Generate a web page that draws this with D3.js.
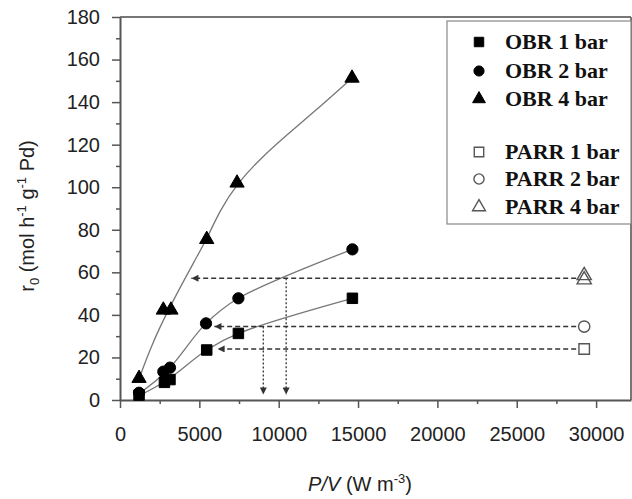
<!DOCTYPE html>
<html><head><meta charset="utf-8">
<script src="https://cdn.jsdelivr.net/npm/d3@7"></script>
<style>body{margin:0;background:#fff}svg{display:block}</style>
</head><body>
<svg id="c" width="632" height="499"></svg>
<script>
// ---- data ----
const obr1x = [1200, 2800, 3150, 5465, 7460, 14645];
const obr1y = [2.3, 8.3, 9.6, 23.5, 31.3, 47.8];
const obr2x = [1200, 2730, 3150, 5420, 7460, 14645];
const obr2y = [3.4, 13.3, 15.2, 36.0, 47.8, 70.8];
const obr4x = [1200, 2730, 3210, 5465, 7375, 14620];
const obr4y = [10.2, 42.3, 42.3, 75.5, 102.0, 151.3];
const parrX = [29250, 29250, 29250, 29250];
const parrY = [24.0, 34.5, 56.5, 58.5];
const parrSym = ["square", "circle", "triangle", "triangle"];
// fitted trend curves
const fit1x = [1200, 3000, 5465, 7460, 14645];
const fit1y = [2.0, 9.5, 23.5, 31.3, 47.8];
const fit2x = [1200, 3000, 5420, 7460, 14645];
const fit2y = [3.0, 14.0, 36.0, 47.8, 70.8];
const fit4x = [1200, 2000, 3000, 4833, 5465, 6301, 7420, 8822, 10504, 12603, 14620];
const fit4y = [10.0, 26.0, 42.0, 67.3, 75.6, 89.3, 102.0, 113.3, 124.5, 137.8, 151.3];
// read-off arrows
const hArrowY = [24.0, 34.5, 57.2];
const hArrowEnd = [6150, 5950, 4500];
const vArrowX = [9030, 10470];
const vArrowTop = [34.5, 57.2];
const vArrowBottom = [2.6, 2.6];
const xTicks = [0, 5000, 10000, 15000, 20000, 25000, 30000];
const xMinor = [2500, 7500, 12500, 17500, 22500, 27500];
const yTicks = [0, 20, 40, 60, 80, 100, 120, 140, 160, 180];
const yMinor = [10, 30, 50, 70, 90, 110, 130, 150, 170];
const legendLabels = ["OBR 1 bar", "OBR 2 bar", "OBR 4 bar", "PARR 1 bar", "PARR 2 bar", "PARR 4 bar"];
const symbols = ["square", "circle", "triangle"];

const svg = d3.select("#c");
const x = d3.scaleLinear().domain([0, 32200]).range([120, 631]);
const y = d3.scaleLinear().domain([0, 180]).range([400, 17]);
const axisCol = "#555";

const defs = svg.append("defs");
defs.append("marker").attr("id", "arr").attr("viewBox", "0 0 10 10")
  .attr("refX", 10).attr("refY", 5).attr("markerWidth", 10).attr("markerHeight", 7)
  .attr("markerUnits", "userSpaceOnUse").attr("orient", "auto")
  .append("path").attr("d", "M0,0 L10,5 L0,10 Z").attr("fill", "#333");

// frame (top + right)
svg.append("line").attr("x1", 120).attr("x2", 631).attr("y1", 17).attr("y2", 17)
  .attr("stroke", "#777").attr("stroke-width", 2);
svg.append("line").attr("x1", 631).attr("x2", 631).attr("y1", 17).attr("y2", 400)
  .attr("stroke", "#777").attr("stroke-width", 2);

function styleAxis(g) {
  g.select(".domain").attr("stroke", axisCol).attr("stroke-width", 2);
  g.selectAll(".tick line").attr("stroke", axisCol).attr("stroke-width", 1.5);
  g.selectAll("text").attr("font-family", "Liberation Sans, Arial, sans-serif")
    .attr("font-size", 20).attr("fill", "#222");
}
const gx = svg.append("g").attr("transform", "translate(0,400)")
  .call(d3.axisBottom(x).tickValues(xTicks).tickSize(8).tickPadding(19).tickSizeOuter(0).tickFormat(d3.format("d")));
styleAxis(gx);
const gxm = svg.append("g").attr("transform", "translate(0,400)")
  .call(d3.axisBottom(x).tickValues(xMinor).tickSize(4).tickFormat(""));
gxm.select(".domain").remove(); gxm.selectAll(".tick line").attr("stroke", axisCol).attr("stroke-width", 1.5);

const gy = svg.append("g").attr("transform", "translate(120,0)")
  .call(d3.axisLeft(y).tickValues(yTicks).tickSize(8).tickPadding(12).tickSizeOuter(0));
styleAxis(gy);
const gym = svg.append("g").attr("transform", "translate(120,0)")
  .call(d3.axisLeft(y).tickValues(yMinor).tickSize(4).tickFormat(""));
gym.select(".domain").remove(); gym.selectAll(".tick line").attr("stroke", axisCol).attr("stroke-width", 1.5);

// fitted curves
const lineC = d3.line().x(d => x(d[0])).y(d => y(d[1])).curve(d3.curveCatmullRom.alpha(0.5));
const lineB = d3.line().x(d => x(d[0])).y(d => y(d[1])).curve(d3.curveBasis);
[[fit1x, fit1y, lineC], [fit2x, fit2y, lineC], [fit4x, fit4y, lineB]].forEach(([fx, fy, gen]) => {
  svg.append("path").datum(fx.map((v, i) => [v, fy[i]])).attr("d", gen)
    .attr("fill", "none").attr("stroke", "#777").attr("stroke-width", 1.3);
});

// horizontal dashed arrows
hArrowY.forEach((v, i) => {
  svg.append("line").attr("x1", x(parrX[i]) - 8).attr("x2", x(hArrowEnd[i]))
    .attr("y1", y(v)).attr("y2", y(v))
    .attr("stroke", "#333").attr("stroke-width", 1.5).attr("stroke-dasharray", "5,3")
    .attr("marker-end", "url(#arr)");
});
// vertical dotted arrows
vArrowX.forEach((v, i) => {
  svg.append("line").attr("x1", x(v)).attr("x2", x(v))
    .attr("y1", y(vArrowTop[i])).attr("y2", y(vArrowBottom[i]))
    .attr("stroke", "#333").attr("stroke-width", 1.3).attr("stroke-dasharray", "2,2")
    .attr("marker-end", "url(#arr)");
});

// symbols
const symType = {square: d3.symbolSquare, circle: d3.symbolCircle, triangle: d3.symbolTriangle};
const symSize = {square: 110, circle: 100, triangle: 88};
function drawSym(g, kind, cx, cy, filled, scale) {
  const s = (scale || 1);
  g.append("path").attr("d", d3.symbol().type(symType[kind]).size(symSize[kind] * s * s)())
    .attr("transform", `translate(${cx},${cy})`)
    .attr("fill", filled ? "#000" : "none")
    .attr("stroke", filled ? "#000" : "#555").attr("stroke-width", filled ? 1 : 1.4);
}
[[obr1x, obr1y, "square"], [obr2x, obr2y, "circle"], [obr4x, obr4y, "triangle"]].forEach(([sx, sy, k]) => {
  sx.forEach((v, i) => drawSym(svg, k, x(v), y(sy[i]), true, 1));
});
parrX.forEach((v, i) => drawSym(svg, parrSym[i], x(v), y(parrY[i]), false, 1));

// legend
const lg = svg.append("g");
lg.append("rect").attr("x", 447).attr("y", 21).attr("width", 184).attr("height", 203)
  .attr("fill", "#fff").attr("stroke", "#888").attr("stroke-width", 1.2);
const rowY = [42, 71, 99, 152, 179, 207];
legendLabels.forEach((t, i) => {
  drawSym(lg, symbols[i % 3], 479, rowY[i], i < 3, 0.9);
  lg.append("text").attr("x", 505).attr("y", rowY[i] + 7).text(t)
    .attr("font-family", "Liberation Serif, Times New Roman, serif").attr("font-weight", "bold")
    .attr("font-size", 22).attr("fill", "#111");
});

// axis titles
const yl = svg.append("text").attr("transform", "translate(34,216) rotate(-90)")
  .attr("text-anchor", "middle").attr("font-family", "Liberation Sans, Arial, sans-serif")
  .attr("font-size", 20).attr("fill", "#222");
yl.append("tspan").text("r");
yl.append("tspan").text("0").attr("font-size", 13).attr("dy", 5);
yl.append("tspan").text(" (mol h").attr("dy", -5);
yl.append("tspan").text("-1").attr("font-size", 13).attr("dy", -8);
yl.append("tspan").text(" g").attr("dy", 8);
yl.append("tspan").text("-1").attr("font-size", 13).attr("dy", -8);
yl.append("tspan").text(" Pd)").attr("dy", 8);

const xl = svg.append("text").attr("x", 360).attr("y", 491)
  .attr("text-anchor", "middle").attr("font-family", "Liberation Sans, Arial, sans-serif")
  .attr("font-size", 20).attr("fill", "#222");
xl.append("tspan").text("P/V").attr("font-style", "italic");
xl.append("tspan").text(" (W m");
xl.append("tspan").text("-3").attr("font-size", 13).attr("dy", -8);
xl.append("tspan").text(")").attr("dy", 8);
</script>
</body></html>
